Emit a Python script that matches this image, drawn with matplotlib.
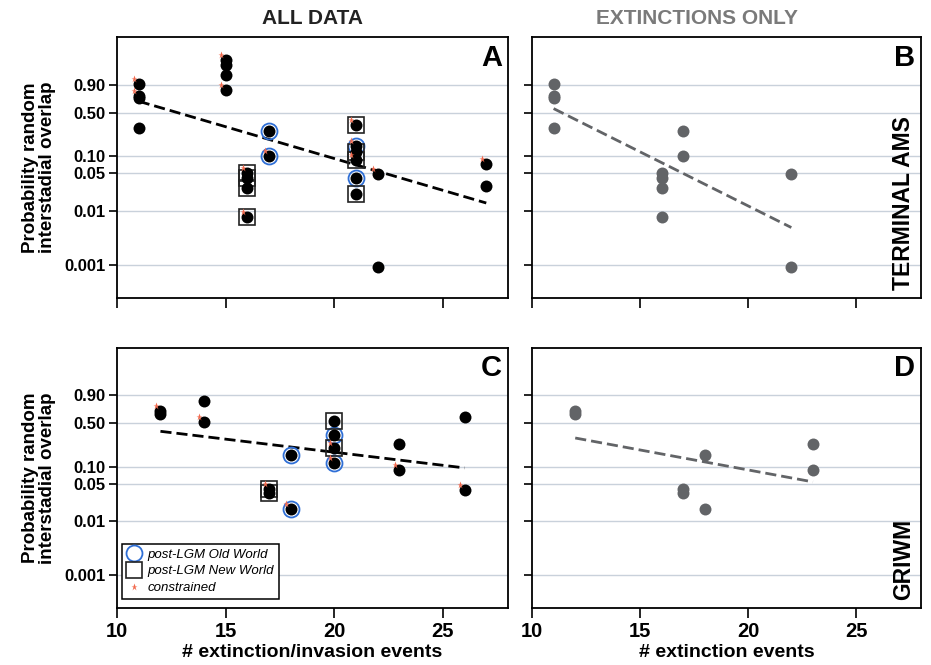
## Interstadial overlap probability vs number of extinction / invasion events

import numpy as np
import matplotlib
matplotlib.use('Agg')
import matplotlib.pyplot as plt
from matplotlib.lines import Line2D
from matplotlib.transforms import ScaledTranslation

matplotlib.rcParams['font.family'] = ['Liberation Sans', 'DejaVu Sans']
matplotlib.rcParams['font.weight'] = 'bold'

# Data
# group: 'o' post-LGM Old World, 'n' post-LGM New World, '' none ; c = constrained
A_x = [11, 11, 11, 11, 15, 15, 15, 15, 16, 16, 16, 16, 17, 17,
       21, 21, 21, 21, 21, 21, 22, 22, 27, 27]
A_p = [0.910, 0.762, 0.727, 0.300, 0.99866, 0.99571, 0.9711, 0.835,
       0.0502, 0.0407, 0.0267, 0.0076, 0.266, 0.100,
       0.338, 0.1507, 0.1209, 0.0873, 0.0412, 0.0205, 0.0478, 0.0009, 0.0731, 0.0294]
A_grp = ['', '', '', '', '', '', '', '', 'n', 'n', 'n', 'n', 'o', 'o',
         'n', 'o', 'n', 'n', 'o', 'n', '', '', '', '']
A_con = [1, 1, 0, 0, 1, 0, 0, 1, 1, 0, 0, 1, 0, 1,
         1, 1, 0, 1, 0, 0, 1, 0, 1, 0]
A_trend_x = [11, 27]
A_trend_p = [0.675, 0.0141]

B_x = [11, 11, 11, 11, 16, 16, 16, 16, 17, 17, 22, 22]
B_p = [0.910, 0.762, 0.727, 0.300, 0.0502, 0.0407, 0.0267, 0.0076,
       0.266, 0.100, 0.0478, 0.0009]
B_trend_x = [11, 22]
B_trend_p = [0.560, 0.00494]

C_x = [12, 12, 14, 14, 17, 17, 18, 18, 20, 20, 20, 20, 23, 23, 26, 26]
C_p = [0.686, 0.638, 0.835, 0.519, 0.039, 0.0338, 0.160, 0.0169,
       0.529, 0.346, 0.212, 0.1195, 0.2505, 0.0873, 0.596, 0.0379]
C_grp = ['', '', '', '', 'n', 'n', 'o', 'o', 'n', 'o', 'n', 'o', '', '', '', '']
C_con = [1, 0, 0, 1, 1, 0, 0, 1, 0, 0, 1, 1, 0, 1, 0, 1]
C_trend_x = [12, 26]
C_trend_p = [0.387, 0.096]

D_x = [12, 12, 17, 17, 18, 18, 23, 23]
D_p = [0.686, 0.638, 0.039, 0.0338, 0.160, 0.0169, 0.2505, 0.0873]
D_trend_x = [12, 23]
D_trend_p = [0.307, 0.0537]

yticks = [0.001, 0.01, 0.05, 0.1, 0.5, 0.9]
yticklabels = ['0.001', '0.01', '0.05', '0.10', '0.50', '0.90']
xticks = [10, 15, 20, 25]


# complementary log-log axis
def cloglog(p):
    p = np.clip(np.asarray(p, dtype=float), 1e-300, 1 - 1e-16)
    return np.log10(-np.log1p(-p))

def inv_cloglog(y):
    return -np.expm1(-10 ** np.asarray(y, dtype=float))


black = '#000000'
grey = '#626467'
red = '#f26a4e'
blue = '#2f6fd6'
gridc = '#c9d1db'

fig = plt.figure(figsize=(9.31, 6.65), dpi=100)
W, H = 931., 665.

def make_ax(l, r, t, b):
    return fig.add_axes([l / W, 1 - b / H, (r - l) / W, (b - t) / H])

axA = make_ax(117, 508, 37, 298)
axB = make_ax(532, 921, 37, 298)
axC = make_ax(117, 508, 348, 608)
axD = make_ax(532, 921, 348, 608)

red_off = ScaledTranslation(-4.5 / 100, 5 / 100, fig.dpi_scale_trans)


def setup(ax, xlabels, ylabels):
    ax.set_yscale('function', functions=(cloglog, inv_cloglog))
    ax.set_ylim(inv_cloglog(-3.62), inv_cloglog(1.25))
    ax.set_xlim(10, 28)
    ax.set_yticks(yticks)
    ax.yaxis.set_minor_locator(matplotlib.ticker.NullLocator())
    ax.set_xticks(xticks)
    if ylabels:
        ax.set_yticklabels(yticklabels)
    else:
        ax.set_yticklabels([])
    if not xlabels:
        ax.set_xticklabels([])
    for y in yticks:
        ax.axhline(y, color=gridc, lw=1.0, zorder=0)
    ax.tick_params(axis='y', direction='out', length=6, width=1.2, labelsize=12, pad=2)
    ax.tick_params(axis='x', direction='out', length=7, width=1.2, labelsize=14.5, pad=3)
    for s in ax.spines.values():
        s.set_linewidth(1.3)


def plot_all(ax, x, p, grp, con, tx, tp):
    x = np.array(x); p = np.array(p); grp = np.array(grp); con = np.array(con, dtype=bool)
    ax.plot(tx, tp, ls=(0, (4, 1.8)), color=black, lw=2.0, zorder=2)
    m = grp == 'o'
    ax.plot(x[m], p[m], 'o', ms=11.5, mfc='none', mec=blue, mew=1.3, zorder=3)
    m = grp == 'n'
    ax.plot(x[m], p[m], 's', ms=11.0, mfc='none', mec='#222222', mew=1.2, zorder=3)
    ax.plot(x, p, 'o', ms=8.6, color=black, mec='none', zorder=4)
    ax.plot(x[con], p[con], '*', ms=5.2, color=red, mec='none', zorder=5,
            transform=ax.transData + red_off)


def plot_ext(ax, x, p, tx, tp):
    ax.plot(tx, tp, ls=(0, (4, 1.8)), color=grey, lw=2.0, zorder=2)
    ax.plot(x, p, 'o', ms=8.6, color=grey, mec='none', zorder=4)


setup(axA, False, True)
setup(axB, False, False)
setup(axC, True, True)
setup(axD, True, False)

plot_all(axA, A_x, A_p, A_grp, A_con, A_trend_x, A_trend_p)
plot_ext(axB, B_x, B_p, B_trend_x, B_trend_p)
plot_all(axC, C_x, C_p, C_grp, C_con, C_trend_x, C_trend_p)
plot_ext(axD, D_x, D_p, D_trend_x, D_trend_p)

for ax, lab in zip([axA, axB, axC, axD], 'ABCD'):
    ax.text(0.985, 0.975, lab, transform=ax.transAxes, ha='right', va='top',
            fontsize=21, fontweight='bold')

axB.text(0.955, 0.03, 'TERMINAL AMS', transform=axB.transAxes, rotation=90,
         ha='center', va='bottom', fontsize=16.5, fontweight='bold')
axD.text(0.955, 0.03, 'GRIWM', transform=axD.transAxes, rotation=90,
         ha='center', va='bottom', fontsize=16.5, fontweight='bold')

for ax in [axA, axC]:
    ax.set_ylabel('Probability random\ninterstadial overlap', fontsize=13.5,
                  fontweight='bold', labelpad=6, linespacing=1.0)
axC.set_xlabel('# extinction/invasion events', fontsize=14, fontweight='bold', labelpad=2)
axD.set_xlabel('# extinction events', fontsize=14, fontweight='bold', labelpad=2)

fig.text(312 / W, 1 - 18 / H, 'ALL DATA', ha='center', va='center',
         fontsize=15, fontweight='bold', color='#222222')
fig.text(697 / W, 1 - 18 / H, 'EXTINCTIONS ONLY', ha='center', va='center',
         fontsize=15, fontweight='bold', color='#7a7a7a')

handles = [Line2D([], [], ls='none', marker='o', ms=11.5, mfc='none', mec=blue, mew=1.3),
           Line2D([], [], ls='none', marker='s', ms=11.0, mfc='none', mec='#222222', mew=1.2),
           Line2D([], [], ls='none', marker='*', ms=5.2, color=red, mec='none')]
leg = axC.legend(handles, ['post-LGM Old World', 'post-LGM New World', 'constrained'],
                 loc='lower left', bbox_to_anchor=(0.012, 0.035), borderaxespad=0,
                 prop={'style': 'italic', 'weight': 'normal', 'size': 9.5},
                 fancybox=False, framealpha=1, edgecolor='black',
                 handlelength=1.2, handletextpad=0.4, labelspacing=0.35,
                 borderpad=0.35)
leg.get_frame().set_linewidth(1.1)

plt.savefig('out.png', dpi=100)
